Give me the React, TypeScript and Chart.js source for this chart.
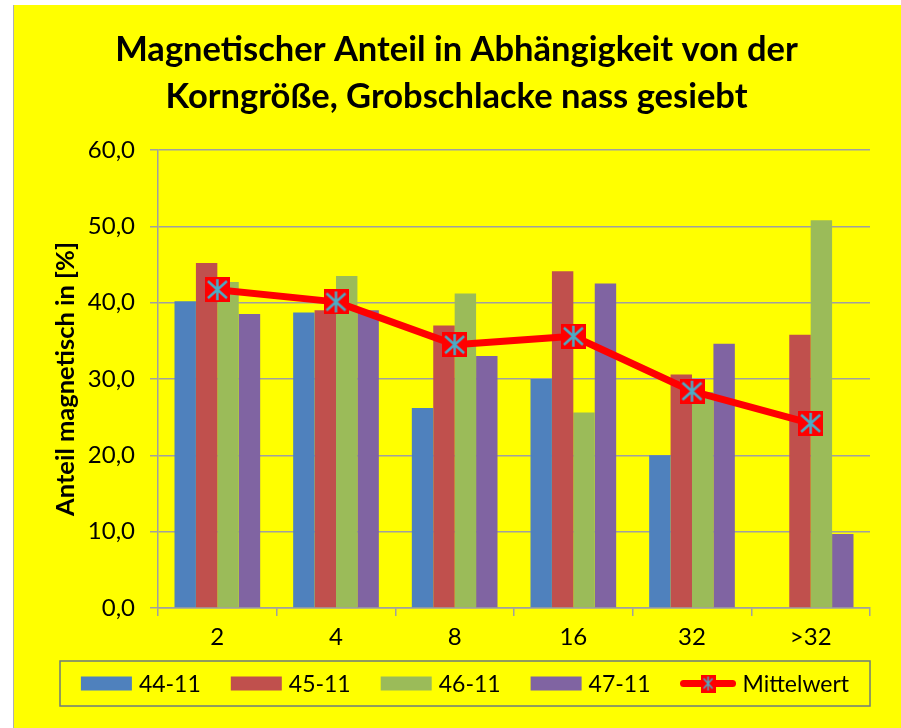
import React, { useEffect, useRef } from 'react';
import { Chart, registerables } from 'chart.js';

Chart.register(...registerables);

const categories = ['2', '4', '8', '16', '32', '>32'];
const s4411 = [40.2, 38.7, 26.2, 30.0, 20.0, null];
const s4511 = [45.2, 39.0, 37.0, 44.1, 30.6, 35.8];
const s4611 = [42.7, 43.5, 41.2, 25.6, 28.3, 50.8];
const s4711 = [38.5, 39.0, 33.0, 42.5, 34.6, 9.7];
const mittelwert = [41.7, 40.1, 34.5, 35.6, 28.4, 24.2];
const seriesNames = ['44-11', '45-11', '46-11', '47-11', 'Mittelwert'];
const yTicks = [0, 10, 20, 30, 40, 50, 60];
const titleLines = ['Magnetischer Anteil in Abhängigkeit von der', 'Korngröße, Grobschlacke nass gesiebt'];
const yTitle = 'Anteil magnetisch in [%]';

const barColors = ['#4F81BD', '#C0504D', '#9BBB59', '#8064A2'];
const FONT = 'Lato';
const W = 887;
const H = 723;
const PAD_LEFT = 29;

function makeMarker(w: number, h: number, lw: number) {
  const c = document.createElement('canvas');
  c.width = w;
  c.height = h;
  const ctx = c.getContext('2d')!;
  ctx.fillStyle = '#FF0000';
  ctx.fillRect(0, 0, w, h);
  ctx.strokeStyle = '#4BACC6';
  ctx.lineWidth = lw;
  ctx.beginPath();
  ctx.moveTo(w / 2, 2);
  ctx.lineTo(w / 2, h - 2);
  ctx.moveTo(3, 4);
  ctx.lineTo(w - 3, h - 4);
  ctx.moveTo(w - 3, 4);
  ctx.lineTo(3, h - 4);
  ctx.stroke();
  return c;
}

export default function App() {
  const ref = useRef<HTMLCanvasElement | null>(null);

  useEffect(() => {
    const canvas = ref.current!;
    const marker = makeMarker(25, 25, 2.5);
    const legendMarker = makeMarker(15, 18, 1.5);

    const legendPlugin = {
      id: 'customLegend',
      afterDraw(chart: any) {
        const ctx = chart.ctx as CanvasRenderingContext2D;
        const ca = chart.chartArea;
        const left = 46;
        const right = ca.right;
        const top = ca.bottom + 53;
        const h = 45;
        ctx.save();
        ctx.strokeStyle = '#6e7b7b';
        ctx.lineWidth = 1.5;
        ctx.strokeRect(left, top, right - left, h);
        ctx.font = `23px ${FONT}`;
        ctx.textBaseline = 'middle';
        const cy = top + h / 2;
        const items = seriesNames.map((name, i) => ({
          name,
          sw: i < 4 ? 51 : 55,
          tw: ctx.measureText(name).width,
        }));
        const gap = 7;
        const spacing = 30;
        const total = items.reduce((a, it) => a + it.sw + gap + it.tw, 0) + spacing * (items.length - 1);
        let x = (left + right) / 2 - total / 2;
        items.forEach((it, i) => {
          if (i < 4) {
            ctx.fillStyle = barColors[i];
            ctx.fillRect(x, cy - 7, 51, 14);
          } else {
            ctx.strokeStyle = '#FF0000';
            ctx.lineWidth = 7;
            ctx.lineCap = 'round';
            ctx.beginPath();
            ctx.moveTo(x + 3, cy);
            ctx.lineTo(x + it.sw - 3, cy);
            ctx.stroke();
            ctx.drawImage(legendMarker, x + it.sw / 2 - 7.5, cy - 9);
          }
          ctx.fillStyle = '#000';
          ctx.fillText(it.name, x + it.sw + gap, cy + 1);
          x += it.sw + gap + it.tw + spacing;
        });
        ctx.restore();
      },
    };

    const barData = [s4411, s4511, s4611, s4711];
    const chart = new Chart(canvas, {
      type: 'bar',
      data: {
        labels: categories,
        datasets: [
          {
            type: 'line',
            label: seriesNames[4],
            data: mittelwert,
            borderColor: '#FF0000',
            backgroundColor: '#FF0000',
            borderWidth: 7,
            borderJoinStyle: 'round',
            pointStyle: marker,
            pointRadius: 12,
            tension: 0,
            order: 0,
          } as any,
          ...barData.map((d, i) => ({
            type: 'bar',
            label: seriesNames[i],
            data: d,
            backgroundColor: barColors[i],
            borderWidth: 0,
            barPercentage: 1,
            categoryPercentage: 0.722,
            order: 1,
          })),
        ],
      },
      options: {
        responsive: false,
        animation: false,
        layout: { padding: { left: PAD_LEFT, right: W - 856, top: 0, bottom: 70 } },
        plugins: {
          legend: { display: false },
          tooltip: { enabled: false },
          title: {
            display: true,
            text: titleLines,
            color: '#000',
            font: { family: FONT, size: 34.5, weight: 'bold', lineHeight: 1.362 },
            padding: { top: 21.5, bottom: 29.5 },
          },
        },
        scales: {
          x: {
            offset: true,
            grid: {
              offset: true,
              drawOnChartArea: false,
              drawTicks: true,
              tickLength: 8,
              color: '#a0a0a0',
              lineWidth: 1.5,
            },
            border: { color: '#a0a0a0', width: 1.5 },
            ticks: { color: '#000', font: { family: FONT, size: 24 }, padding: 7 },
            afterFit: (s: any) => {
              s.height = 50;
            },
          },
          y: {
            min: 0,
            max: 60,
            afterBuildTicks: (s: any) => {
              s.ticks = yTicks.map((v) => ({ value: v }));
            },
            ticks: {
              color: '#000',
              font: { family: FONT, size: 24 },
              padding: 15,
              callback: (v: any) => Number(v).toFixed(1).replace('.', ','),
            },
            grid: { color: '#a0a0a0', lineWidth: 1.5, tickLength: 8, drawTicks: true },
            border: { color: '#a0a0a0', width: 1.5 },
            title: {
              display: true,
              text: yTitle,
              color: '#000',
              font: { family: FONT, size: 25.5, weight: 'bold' },
              padding: { top: 37 - PAD_LEFT - 1, bottom: 0 },
            },
            afterFit: (s: any) => {
              s.width = 144 - PAD_LEFT;
            },
          },
        },
      },
      plugins: [legendPlugin],
    } as any);
    return () => chart.destroy();
  }, []);

  return (
    <div
      style={{
        position: 'absolute',
        left: 13,
        top: 5,
        width: W,
        height: H,
        background: '#FFFF00',
        borderLeft: '1px solid #b0b0b0',
      }}
    >
      <canvas ref={ref} width={W} height={H} style={{ display: 'block' }} />
    </div>
  );
}
